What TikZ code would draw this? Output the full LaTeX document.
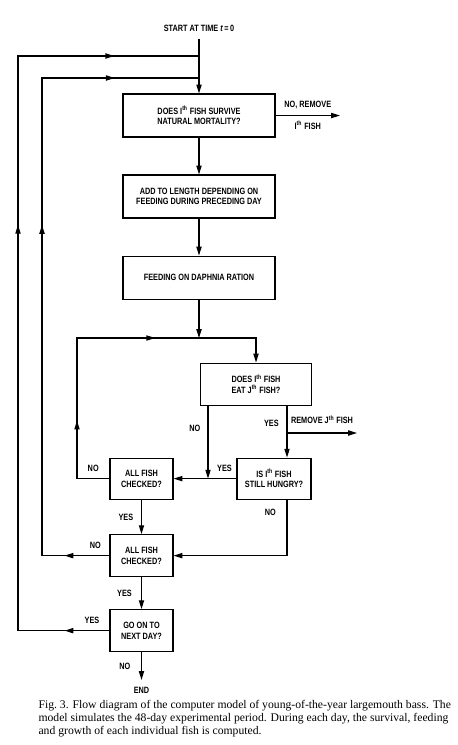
\documentclass[tikz,border=0pt]{standalone}
\usepackage{fontspec}
\newfontfamily\chartfont{Liberation Sans}[FakeStretch=0.8]
\newfontfamily\capfont{Liberation Serif}
\newcommand\flowfont{\chartfont\bfseries\fontsize{6.5}{7.5}\selectfont}
\usetikzlibrary{arrows.meta,decorations.markings}

\begin{document}
\begin{tikzpicture}[x=0.025cm, y=-0.025cm, >={Triangle[length=2.2mm,width=1.3mm]}, node distance=2.025cm, line width=0.8pt,
  stepbox/.style={draw, align=center, inner sep=0pt, font=\flowfont},
  term/.style={inner sep=5pt, font=\flowfont},
  lbl/.style={inner sep=1.5pt, font=\flowfont},
  tipat/.style={postaction={decorate, decoration={markings, mark=at position #1 with {\arrow{>}}}}}]
\useasboundingbox (0,0) rectangle (458,745);
\node[term] (start) at (199,28) {START AT TIME {\itshape t}\,=\,0};
\node[stepbox, minimum width=3.8cm, minimum height=1.075cm, below of=start, yshift=-0.1625cm] (surv) {DOES I\textsuperscript{th} FISH SURVIVE\\NATURAL MORTALITY?};
\node[stepbox, minimum width=3.8cm, minimum height=1.075cm, below of=surv] (grow) {ADD TO LENGTH DEPENDING ON\\FEEDING DURING PRECEDING DAY};
\node[stepbox, minimum width=3.8cm, minimum height=1.075cm, below of=grow] (feed) {FEEDING ON DAPHNIA RATION};
\node[stepbox, minimum width=2.775cm, minimum height=1.05cm, below of=feed, xshift=1.425cm, yshift=-0.6375cm] (eat) {DOES I\textsuperscript{th} FISH\\EAT J\textsuperscript{th} FISH?};
\node[stepbox, minimum width=1.85cm, minimum height=1.025cm, below of=eat, xshift=0.45cm, yshift=-0.3375cm] (hungry) {IS I\textsuperscript{th} FISH\\STILL HUNGRY?};
\node[stepbox, minimum width=1.575cm, minimum height=1.025cm, left of=hungry, xshift=-1.2875cm] (chka) {ALL FISH\\CHECKED?};
\node[stepbox, minimum width=1.575cm, minimum height=1.05cm, below of=chka, yshift=0.1cm] (chkb) {ALL FISH\\CHECKED?};
\node[stepbox, minimum width=1.575cm, minimum height=1.05cm, below of=chkb, yshift=0.15cm] (next) {GO ON TO\\NEXT DAY?};
\node[term, below of=next, yshift=0.525cm] (stop) {END};
\node[anchor=north west, align=left, inner sep=0pt, font=\capfont\fontsize{8.3}{9.2}\selectfont] (caption) at (38,700) {Fig.~3. Flow diagram of the computer model of young-of-the-year largemouth bass. The\\model simulates the 48-day experimental period. During each day, the survival, feeding\\and growth of each individual fish is computed.};

\coordinate (raila) at (18,56);
\coordinate (topa) at (start |- raila);
\coordinate (railb) at (42,78);
\coordinate (topb) at (start |- railb);
\coordinate (railc) at (77,338);
\coordinate (join) at (feed.south |- railc);
\coordinate (gone) at (surv.east -| 340,0);
\coordinate (noeat) at ([xshift=-1.2cm]eat.south);
\coordinate (yeseat) at ([xshift=0.775cm]eat.south);
\coordinate (fork) at (yeseat |- 0,433);
\coordinate (eaten) at (357,433);
\coordinate (nohungry) at (yeseat |- hungry.south);

\draw[->] (start) -- (surv);
\draw[->] (surv.east) -- node[lbl, above=3pt] {NO, REMOVE} node[lbl, below=2pt] {I\textsuperscript{th} FISH} (gone);
\draw[->] (surv) -- (grow);
\draw[->] (grow) -- (feed);
\draw[->] (feed) -- (join);
\draw[->, tipat=0.24, tipat=0.667] (chka.west) -- node[lbl, above=3pt] {NO} (chka.west -| railc) -- (railc) -- (eat.north |- railc) -- (eat.north);
\draw[->] (noeat) -- node[lbl, left=3.5pt, pos=0.31] {NO} (noeat |- hungry.west);
\draw[->] (yeseat) -- node[lbl, left=4pt, pos=0.34] {YES} (yeseat |- hungry.north);
\draw[->] (fork) -- node[lbl, above=4.5pt] {REMOVE J\textsuperscript{th} FISH} (eaten);
\draw[->] (hungry.west) -- node[lbl, above=3pt, pos=0.19] {YES} (chka.east);
\draw[->] (chka) -- node[lbl, left=4pt] {YES} (chkb);
\draw[->] (nohungry) -- node[lbl, left=6pt, pos=0.23] {NO} (nohungry |- chkb.east) -- (chkb.east);
\draw[tipat=0.064, tipat=0.567, tipat=0.88] (chkb.west) -- node[lbl, above=3pt, pos=0.21] {NO} (chkb.west -| railb) -- (railb) -- (topb);
\draw[->] (chkb) -- node[lbl, left=5pt] {YES} (next);
\draw[tipat=0.053, tipat=0.587, tipat=0.9] (next.west) -- node[lbl, above=3pt, pos=0.19] {YES} (next.west -| raila) -- (raila) -- (topa);
\draw[->] (next) -- node[lbl, left=6pt] {NO} (stop);
\end{tikzpicture}
\end{document}
